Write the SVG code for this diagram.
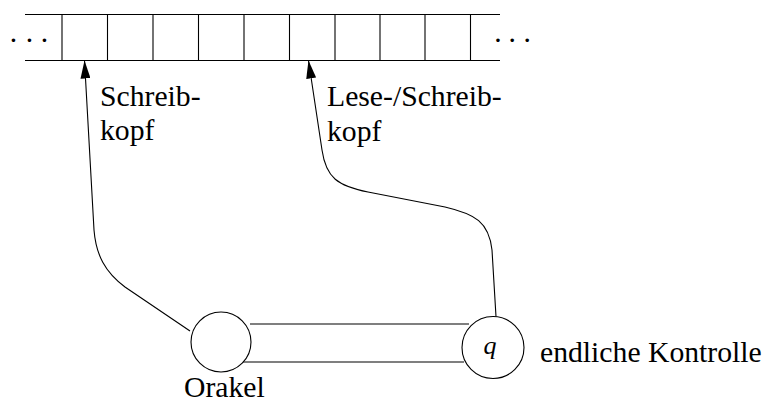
<svg xmlns="http://www.w3.org/2000/svg" width="765" height="403" viewBox="0 0 765 403">
<style>
.ln{fill:none;stroke:#000;stroke-width:1.1}
.t{font-family:'Liberation Serif','Tinos','DejaVu Serif','Noto Serif',serif;font-size:29.7px;fill:#000}
.q{font-family:'Liberation Serif','Tinos','DejaVu Serif','Noto Serif',serif;font-size:26px;font-style:italic;fill:#000}
</style>
<defs>
<marker id="ah" markerUnits="userSpaceOnUse" viewBox="0 0 18 10" refX="18" refY="5" markerWidth="18" markerHeight="10" orient="auto">
<path d="M0,0 L18,5 L0,10 Z" fill="#000"/>
</marker>
</defs>
<g id="tape">
<line class="ln" x1="25" y1="14.5" x2="500" y2="14.5"/>
<line class="ln" x1="25" y1="60.5" x2="500" y2="60.5"/>
<line class="ln" x1="62" y1="14.5" x2="62" y2="60.5"/>
<line class="ln" x1="107.5" y1="14.5" x2="107.5" y2="60.5"/>
<line class="ln" x1="153" y1="14.5" x2="153" y2="60.5"/>
<line class="ln" x1="198.5" y1="14.5" x2="198.5" y2="60.5"/>
<line class="ln" x1="244" y1="14.5" x2="244" y2="60.5"/>
<line class="ln" x1="289.5" y1="14.5" x2="289.5" y2="60.5"/>
<line class="ln" x1="335" y1="14.5" x2="335" y2="60.5"/>
<line class="ln" x1="380" y1="14.5" x2="380" y2="60.5"/>
<line class="ln" x1="425" y1="14.5" x2="425" y2="60.5"/>
<line class="ln" x1="470.5" y1="14.5" x2="470.5" y2="60.5"/>
<text class="t" x="8.6 24.6 39.6" y="50">···</text>
<text class="t" x="493 507.3 522.3" y="50">···</text>
</g>
<g id="oracle">
<circle class="ln" cx="221" cy="342" r="30"/>
<text class="t" x="184" y="397">Orakel</text>
</g>
<g id="control">
<circle class="ln" cx="493" cy="347.5" r="31"/>
<text class="q" x="490" y="354" text-anchor="middle">q</text>
<text class="t" x="540" y="362">endliche Kontrolle</text>
</g>
<g id="labels">
<text class="t" x="100" y="106">Schreib-</text>
<text class="t" x="100" y="140">kopf</text>
<text class="t" x="327" y="106">Lese-/Schreib-</text>
<text class="t" x="327" y="141">kopf</text>
</g>
<g id="connectors">
<path class="ln" d="M190,331 L125,287 C105,272 96,255 94,230 L84.5,60.5" marker-end="url(#ah)"/>
<path class="ln" d="M496,316.5 L492,250 C489,222 475,214 445,207 L368,192 C338,186 326,178 322,150 L308.5,60.5" marker-end="url(#ah)"/>
<line class="ln" x1="250" y1="324" x2="469" y2="324"/>
<line class="ln" x1="243" y1="362" x2="464" y2="362"/>
</g>
</svg>
